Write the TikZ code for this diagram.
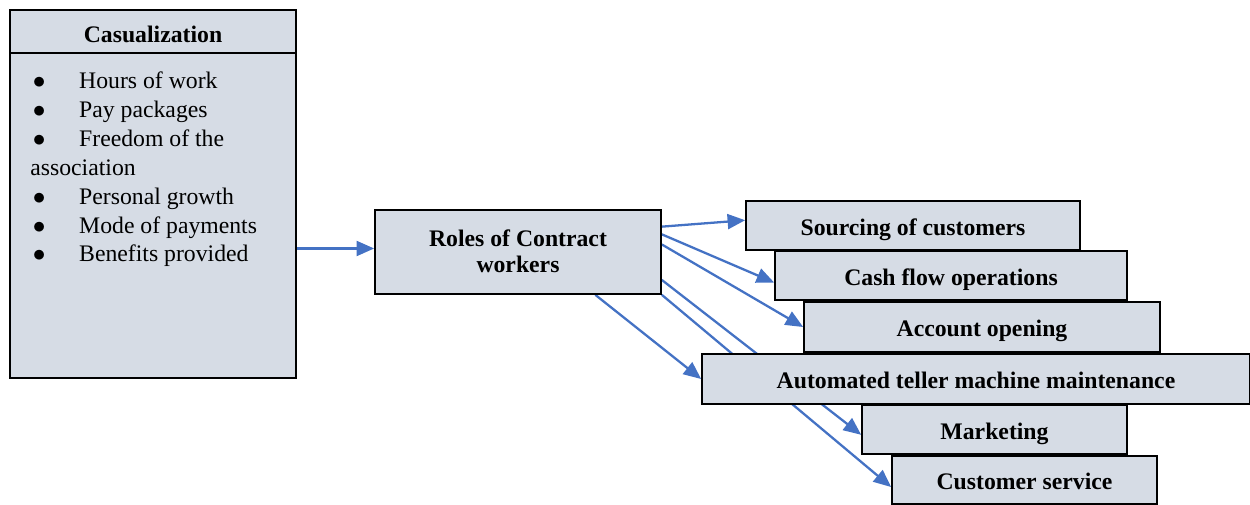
\documentclass[tikz,border=0pt]{standalone}
\usepackage{fontspec}
\setmainfont{Liberation Serif}
\usepackage{tikz}
\usetikzlibrary{
  arrows.meta,
  positioning,
  backgrounds
}
\definecolor{BoxFill}{RGB}{214, 220, 229}
\definecolor{ArrowBlue}{RGB}{68, 114, 196}
\tikzset{
    box/.style={rectangle, draw=black, line width=1pt, fill=BoxFill, inner sep=2pt,
        align=center, font=\fontsize{13.5}{16.4}\selectfont\bfseries},
    oneline/.style={text height=13pt, text depth=2pt},
    flow/.style={draw=ArrowBlue, line width=1.3pt, -{Triangle[length=10pt, width=8.5pt]}}
}
\newcommand{\castitem}[1]{\makebox[27.8pt][l]{\hspace{1.5pt}$\bullet$}#1}

\begin{document}
\begin{tikzpicture}[x=0.02cm, y=-0.02cm]
    \useasboundingbox (0,0) rectangle (1250,504);
    % left block
    \node[box, minimum width=5.72cm, minimum height=6.5cm] (casbody) at (153,215.5) {};
    \node[box, minimum width=5.72cm, minimum height=0.86cm, text height=14pt, text depth=1pt] (cashead) at (153,31.5) {Casualization};
    \node[anchor=north west, inner sep=0pt, align=left, font=\fontsize{13.5}{16.5}\selectfont] (caslist) at (30,71) {
        \castitem{Hours of work}\\
        \castitem{Pay packages}\\
        \castitem{Freedom of the}\\
        association\\
        \castitem{Personal growth}\\
        \castitem{Mode of payments}\\
        \castitem{Benefits provided}
    };
    % middle block
    \node[box, minimum width=5.72cm, minimum height=1.68cm, font=\fontsize{13.5}{14.8}\selectfont\bfseries] (roles) at (518,252) {\raisebox{1pt}{Roles of Contract}\\\raisebox{1pt}{workers}};
    % roles
    \node[box, oneline, minimum width=6.68cm, minimum height=0.98cm] (sourcing) at (913,225.5) {Sourcing of customers};
    \node[box, oneline, minimum width=7.04cm, minimum height=0.98cm] (cash) at (951,275.5) {Cash flow operations};
    \node[box, oneline, minimum width=7.12cm, minimum height=1.0cm] (account) at (982,327) {Account opening};
    \node[box, oneline, minimum width=10.96cm, minimum height=1.0cm] (atm) at (976,379) {Automated teller machine maintenance};
    \node[box, oneline, minimum width=5.3cm, minimum height=0.98cm] (marketing) at (994.5,429.5) {Marketing};
    \node[box, oneline, minimum width=5.3cm, minimum height=0.96cm] (service) at (1024.5,480) {Customer service};
    % connectors
    \begin{scope}[on background layer]
        \draw[flow] ([yshift=2pt]roles.west -| casbody.east) -- ([yshift=2pt]roles.west);
        \draw[flow] (roles.10) -- ([yshift=3pt]sourcing.west);
        \draw[flow] (roles.7.6) -- ([yshift=-4pt]cash.west);
        \draw[flow] (roles.3.2) -- (account.west);
        \draw[flow] (roles.-29) -- (atm.west);
        \draw[flow] (roles.-11) -- ([yshift=-3pt]marketing.west);
        \draw[flow] (roles.south east) -- ([yshift=-4pt]service.west);
    \end{scope}
\end{tikzpicture}
\end{document}
